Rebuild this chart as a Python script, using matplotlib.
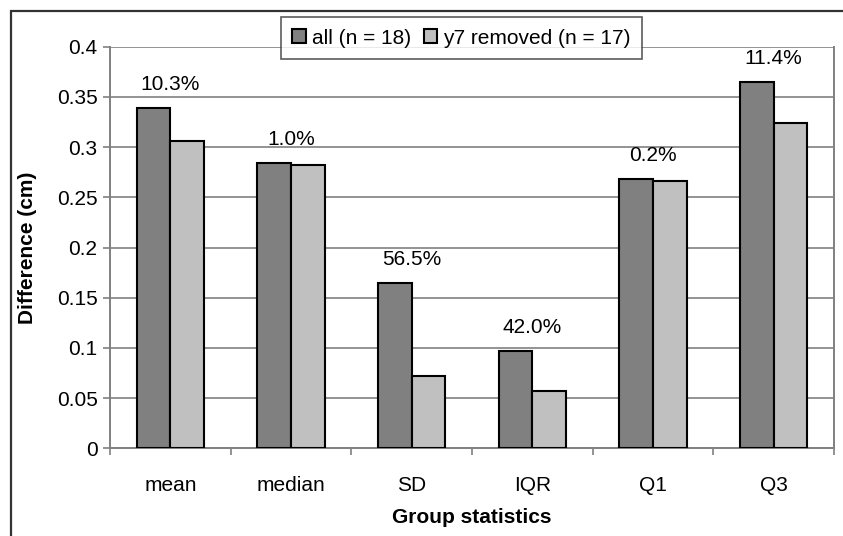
import matplotlib
matplotlib.use("Agg")
import matplotlib.pyplot as plt
import matplotlib.patches as patches
import numpy as np

categories = ["mean", "median", "SD", "IQR", "Q1", "Q3"]
all_vals = [0.339, 0.284, 0.165, 0.097, 0.268, 0.365]
removed_vals = [0.306, 0.282, 0.072, 0.057, 0.266, 0.324]
pct_labels = ["10.3%", "1.0%", "56.5%", "42.0%", "0.2%", "11.4%"]
yticks = [0, 0.05, 0.1, 0.15, 0.2, 0.25, 0.3, 0.35, 0.4]
ytick_labels = ["0", "0.05", "0.1", "0.15", "0.2", "0.25", "0.3", "0.35", "0.4"]

plt.rcParams['font.family'] = ['Liberation Sans', 'DejaVu Sans']
FS = 15

W, H = 843, 536
fig = plt.figure(figsize=(W / 100, H / 100), dpi=100)
ax = fig.add_axes([110 / W, 1 - 448.3 / H, (834 - 110) / W, (448.3 - 46.7) / H])

# outer chart border (cut off on right/bottom)
fig.patches.append(patches.Rectangle((11 / W, -0.5), 2.0, 1 - 11 / H + 0.5,
                                     transform=fig.transFigure, fill=False,
                                     edgecolor='#333333', linewidth=1.6, zorder=0))

x = np.arange(len(categories))
bw = 0.28
ax.bar(x - bw / 2, all_vals, bw, color='#808080', edgecolor='black', linewidth=1.5,
       label='all (n = 18)', zorder=3)
ax.bar(x + bw / 2, removed_vals, bw, color='#c0c0c0', edgecolor='black', linewidth=1.5,
       label='y7 removed (n = 17)', zorder=3)

for xi, v, lab in zip(x, all_vals, pct_labels):
    ax.annotate(lab, (xi, v), xytext=(0, 17), textcoords='offset points',
                ha='center', va='center', fontsize=FS, color='black', zorder=4)

ax.set_xlim(-0.5, len(categories) - 0.5)
ax.set_ylim(0, 0.4)
ax.set_yticks(yticks)
ax.set_yticklabels(ytick_labels, fontsize=FS)
ax.yaxis.grid(True, color='#808080', linewidth=1.2, zorder=0)
ax.set_axisbelow(True)

ax.set_xticks(x)
ax.set_xticklabels(categories, fontsize=FS)
ax.tick_params(axis='x', which='major', length=0, pad=20)
ax.set_xticks(np.arange(-0.5, len(categories), 1), minor=True)
ax.tick_params(axis='x', which='minor', length=5, direction='out', color='#808080', width=1.2)
ax.tick_params(axis='y', length=5, direction='out', color='#808080', width=1.2, pad=4)

for s in ['left', 'bottom', 'right']:
    ax.spines[s].set_color('#808080')
    ax.spines[s].set_linewidth(1.4)
ax.spines['top'].set_visible(False)

ax.set_xlabel('Group statistics', fontsize=FS, fontweight='bold', labelpad=9)
ax.set_ylabel('Difference (cm)', fontsize=FS, fontweight='bold', labelpad=14)

leg = ax.legend(loc='center', bbox_to_anchor=((461.5 - 110) / (834 - 110), 1 + (46.7 - 38) / (448.3 - 46.7)),
                ncol=2, fontsize=FS, frameon=True, fancybox=False, edgecolor='#333333',
                handlelength=0.65, handleheight=0.65, handletextpad=0.3, columnspacing=0.6,
                borderpad=0.55, borderaxespad=0)
leg.get_frame().set_linewidth(1.2)
leg.set_zorder(10)

fig.savefig('out.png', dpi=100)
